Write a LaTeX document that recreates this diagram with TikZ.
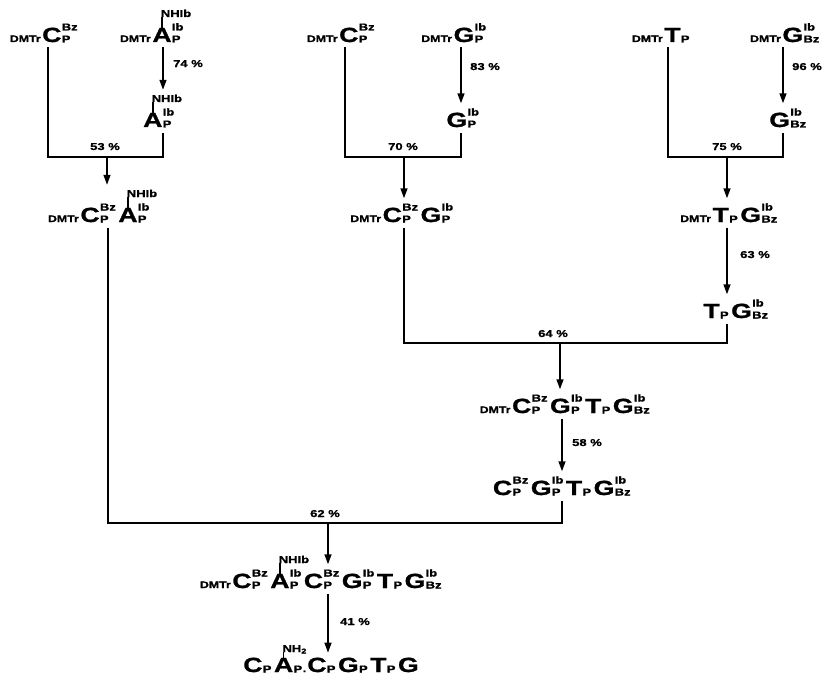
\documentclass[tikz,border=0pt]{standalone}
\usepackage{fontspec}
\setmainfont{Liberation Sans}[FakeStretch=1.3, BoldFeatures={FakeBold=1.2}]
\usepackage{tikz}
\usetikzlibrary{arrows.meta,positioning,calc}

% small prefix and nucleotide units
\newcommand{\dmtr}{{\fontsize{9.5}{10}\selectfont DMTr}\kern1.5pt}
\newcommand{\subsup}[2]{%
  \setbox0\hbox{\raise-0.5pt\hbox{\fontsize{10}{10}\selectfont #1}}%
  \setbox2\hbox{\raise11.5pt\hbox{\fontsize{10}{10}\selectfont #2}}%
  \ifdim\wd0>\wd2 \rlap{\box2}\box0\else\rlap{\box0}\box2\fi}
\newcommand{\nuc}[3]{{\fontsize{20.5}{21}\selectfont #1}\kern0.3pt\subsup{#2}{#3}\kern2.5pt}
% letter with a protecting group drawn above it
\newcommand{\nucg}[4]{%
  \setbox4\hbox{\fontsize{20.5}{21}\selectfont #1}%
  \rlap{\kern0.5\wd4\kern-0.6pt\vrule height 25pt depth -14pt width 1.3pt%
    \raise25pt\hbox{\kern-1.8pt\fontsize{10}{10}\selectfont #4}}%
  \box4\kern0.3pt\subsup{#2}{#3}\kern2.5pt}
% same, group kept out of the node height
\newcommand{\nucs}[5]{%
  \setbox4\hbox{\fontsize{20.5}{21}\selectfont #1}%
  \rlap{\kern0.5\wd4\kern-0.6pt\smash{\vrule height #5 depth -14pt width 1.3pt%
    \raise#5\hbox{\kern-1.8pt\fontsize{10}{10}\selectfont #4}}}%
  \box4\kern0.3pt\subsup{#2}{#3}\kern2.5pt}

\begin{document}
\begin{tikzpicture}[x=1pt, y=-1pt,
  chem/.style={inner sep=0pt, outer sep=5pt, anchor=base, font=\bfseries},
  pct/.style={inner sep=0pt, anchor=base west, font=\fontsize{10}{11}\selectfont\bfseries},
  line/.style={line width=1.5pt},
  arr/.style={line width=1.5pt, -{Triangle[length=10pt, width=7pt]}},
]
  \useasboundingbox (0,0) rectangle (828,685);

  % junction points
  \coordinate (k1l) at (48,157);  \coordinate (k1) at (107,157); \coordinate (k1r) at (163,157);
  \coordinate (k2l) at (345,157); \coordinate (k2) at (404,157); \coordinate (k2r) at (461,157);
  \coordinate (k5l) at (668,157); \coordinate (k5) at (727,157); \coordinate (k5r) at (783,157);
  \coordinate (k3l) at (404,343); \coordinate (k3) at (560,343); \coordinate (k3r) at (727,343);
  \coordinate (k4l) at (108,523); \coordinate (k4) at (328,523); \coordinate (k4r) at (562,523);

  % starting units
  \node[chem] (dmtrc1) at (45,42) {\dmtr\nuc{C}{P}{Bz}};
  \node[chem] (dmtra) at (153,42) {\dmtr\nucg{A}{P}{Ib}{NHIb}};
  \node[chem] (dmtrc2) at (342,42) {\dmtr\nuc{C}{P}{Bz}};
  \node[chem] (dmtrg) at (455,42) {\dmtr\nuc{G}{P}{Ib}};
  \node[chem] (dmtrt) at (662,42) {\dmtr\nuc{T}{P}{}};
  \node[chem] (dmtrgbz) at (786,42) {\dmtr\nuc{G}{Bz}{Ib}};

  \node[chem] (ap) at (160,127) {\nucg{A}{P}{Ib}{NHIb}};
  \node[chem] (gp) at (464,127) {\nuc{G}{P}{Ib}};
  \node[chem] (gbz) at (789,127) {\nuc{G}{Bz}{Ib}};

  % dimers
  \node[chem] (ca) at (100,222) {\dmtr\nuc{C}{P}{Bz}\nucg{A}{P}{Ib}{NHIb}};
  \node[chem] (cg) at (403,222) {\dmtr\nuc{C}{P}{Bz}\nuc{G}{P}{Ib}};
  \node[chem] (tg) at (730,222) {\dmtr\nuc{T}{P}{}\nuc{G}{Bz}{Ib}};
  \node[chem] (tgp) at (737,318) {\nuc{T}{P}{}\nuc{G}{Bz}{Ib}};

  % tetramers, hexamer
  \node[chem] (cgtg) at (566,413) {\dmtr\nuc{C}{P}{Bz}\nuc{G}{P}{Ib}\nuc{T}{P}{}\nuc{G}{Bz}{Ib}};
  \node[chem] (cgtgp) at (563,495) {\nuc{C}{P}{Bz}\nuc{G}{P}{Ib}\nuc{T}{P}{}\nuc{G}{Bz}{Ib}};
  \node[chem] (hexa) at (322,588) {\dmtr\nuc{C}{P}{Bz}\nucs{A}{P}{Ib}{NHIb}{25pt}\nuc{C}{P}{Bz}\nuc{G}{P}{Ib}\nuc{T}{P}{}\nuc{G}{Bz}{Ib}};
  \node[chem] (final) at (331,672) {\nuc{C}{P}{}\nucs{A}{P}{}{NH\textsubscript{2}}{20pt}\kern-2pt.\kern1pt\nuc{C}{P}{}\nuc{G}{P}{}\nuc{T}{P}{}{\fontsize{20.5}{21}\selectfont G}};

  % yields
  \node[pct] (y74) at (173,67) {74 \%};
  \node[pct] (y53) at (90,150) {53 \%};
  \node[pct] (y83) at (470,70) {83 \%};
  \node[pct] (y70) at (388,150) {70 \%};
  \node[pct] (y96) at (792,70) {96 \%};
  \node[pct] (y75) at (712,150) {75 \%};
  \node[pct] (y63) at (740,258) {63 \%};
  \node[pct] (y64) at (538,337) {64 \%};
  \node[pct] (y58) at (572,446) {58 \%};
  \node[pct] (y62) at (310,517) {62 \%};
  \node[pct] (y41) at (340,625) {41 \%};

  % deprotection steps
  \draw[arr] (dmtra.south -| k1r) -- (ap.north -| k1r);
  \draw[arr] (dmtrg.south -| k2r) -- (gp.north -| k2r);
  \draw[arr] (dmtrgbz.south -| k5r) -- (gbz.north -| k5r);
  \draw[arr] (tg.south -| k3r) -- (tgp.north -| k3r);
  \draw[arr] (cgtg.south -| k4r) -- (cgtgp.north -| k4r);
  \draw[arr] (hexa.south -| k4) -- (final.north -| k4);

  % condensations
  \draw[line] (dmtrc1.south -| k1l) -- (k1l) -- (k1r) -- (ap.south -| k1r);
  \draw[arr] (k1) -- (ca.north -| k1);
  \draw[line] (dmtrc2.south -| k2l) -- (k2l) -- (k2r) -- (gp.south -| k2r);
  \draw[arr] (k2) -- (cg.north -| k2);
  \draw[line] (dmtrt.south -| k5l) -- (k5l) -- (k5r) -- (gbz.south -| k5r);
  \draw[arr] (k5) -- (tg.north -| k5);
  \draw[line] (cg.south -| k3l) -- (k3l) -- (k3r) -- (tgp.south -| k3r);
  \draw[arr] (k3) -- (cgtg.north -| k3);
  \draw[line] (ca.south -| k4l) -- (k4l) -- (k4r) -- (cgtgp.south -| k4r);
  \draw[arr] (k4) -- (hexa.north -| k4);
\end{tikzpicture}
\end{document}
